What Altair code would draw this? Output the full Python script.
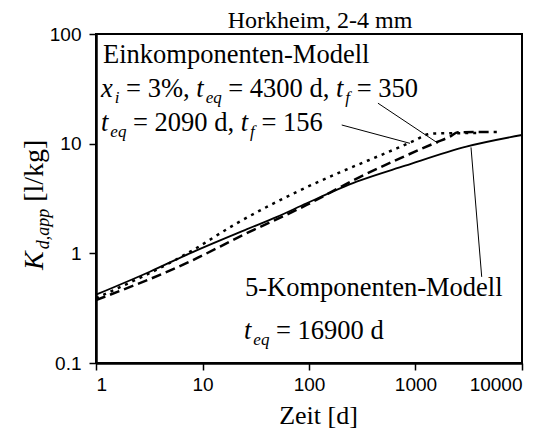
import altair as alt
import pandas as pd

# ---------------- data ----------------
t_solid = [1, 3.2, 7.6, 25, 50, 95, 280, 800, 3000, 10000]
k_solid = [0.42, 0.68, 1.0, 1.63, 2.15, 2.86, 4.5, 6.3, 9.4, 12.0]

t_dash = [1, 7.6, 24, 95, 280, 750, 1580, 2110, 2500, 5800]
k_dash = [0.375, 0.84, 1.47, 2.76, 4.8, 7.5, 10.3, 11.6, 12.7, 12.8]

t_dot = [1, 7.6, 21, 77, 195, 666, 1000, 1310, 1500, 4000]
k_dot = [0.39, 1.03, 1.88, 3.64, 5.47, 9.06, 10.8, 12.2, 12.4, 12.5]

x_ticks = [1, 10, 100, 1000, 10000]
y_ticks = [0.1, 1, 10, 100]

# leader lines (data coordinates)
lead_t1 = [444, 203, 3320]
lead_k1 = [23.4, 14.8, 9.25]
lead_t2 = [1626, 888, 4185]
lead_k2 = [10.1, 10.07, 0.61]

SERIF = "Times New Roman, Liberation Serif, serif"

W, H = 426, 329
OX, OY = 96, 34  # plot origin in page pixels


def to_t(px):
    return 10 ** ((px - OX) / W * 4)


def to_k(py):
    return 10 ** (2 - (py - OY) / H * 3)


REG = {' ': 250, '%': 833, ',': 250, '-': 333, '.': 250, '/': 278, '=': 564,
       '[': 333, ']': 333, 'E': 611, 'H': 722, 'K': 722, 'M': 889, 'Z': 611,
       'a': 444, 'd': 500, 'e': 444, 'f': 333, 'g': 500, 'h': 500, 'i': 278,
       'k': 500, 'l': 278, 'm': 778, 'n': 500, 'o': 500, 'p': 500, 'q': 500,
       'r': 333, 't': 278, 'x': 500}
for c in '0123456789':
    REG[c] = 500
ITA = {'K': 667, 'a': 500, 'd': 500, 'e': 444, 'f': 278, 'i': 278, 'p': 500,
       'q': 500, 't': 278, 'x': 444, ',': 250}


def width(s, ital, size):
    tab = ITA if ital else REG
    return sum(tab.get(c, 500) for c in s) / 1000 * size


F, FS = 26.5, 17
rows = []


def layout(x0, base, pieces, f=F):
    x = x0
    for text, ital, sub in pieces:
        size = FS if sub else f
        lead = len(text) - len(text.lstrip())
        xs = x + width(text[:lead], ital, size)
        y = base + (6 if sub else 0)
        key = ('i' if ital else 'r') + ('s' if sub else 'b')
        rows.append(dict(t=to_t(xs), K=to_k(y), txt=text.strip(), g=key))
        x += width(text, ital, size) + (2 if (ital and not sub) else 0)


layout(103, 63, [("Einkomponenten-Modell", False, False)])
layout(101, 97, [("x", True, False), ("i", True, True), (" = 3%, ", False, False),
                 ("t", True, False), ("eq", True, True), (" = 4300 d, ", False, False),
                 ("t", True, False), ("f", True, True), (" = 350", False, False)])
layout(101, 131, [("t", True, False), ("eq", True, True), (" = 2090 d, ", False, False),
                  ("t", True, False), ("f", True, True), (" = 156", False, False)])
layout(245, 296, [("5-Komponenten-Modell", False, False)])
layout(244, 339, [("t", True, False), ("eq", True, True), (" = 16900 d", False, False)])
txt = pd.DataFrame(rows)

# rotated y-axis title pieces
rot_rows = []
yb, xb = 270, 43
for text, ital, sub in [("K", True, False), ("d,app", True, True), (" [l/kg]", False, False)]:
    size = 18 if sub else 28
    lead = len(text) - len(text.lstrip())
    ys = yb - width(text[:lead], ital, size)
    rot_rows.append(dict(t=to_t(xb + (6 if sub else 0)), K=to_k(ys), txt=text.strip(),
                         g=('i' if ital else 'r') + str(size)))
    yb -= width(text, ital, size) + (2 if (ital and not sub) else 0)
rot = pd.DataFrame(rot_rows)

title_df = pd.DataFrame([dict(t=to_t(320), K=to_k(28), txt="Horkheim, 2-4 mm")])

xs = alt.Scale(type='log', domain=[1, 10000])
ys_ = alt.Scale(type='log', domain=[0.1, 100])
xaxis = alt.Axis(values=x_ticks, format='~g', title='Zeit [d]', grid=False,
                 titleX=222, titleY=60, titleBaseline='alphabetic',
                 titleFont=SERIF, titleFontSize=26, titleFontWeight='normal')
yaxis = alt.Axis(values=y_ticks, format='~g', title='', grid=False)
X = alt.X('t:Q', scale=xs, axis=xaxis)
Y = alt.Y('K:Q', scale=ys_, axis=yaxis)


def line(ts, ks, dash, sw):
    df = pd.DataFrame({'t': ts, 'K': ks})
    kw = dict(color='black', strokeWidth=sw, interpolate='monotone')
    if dash:
        kw['strokeDash'] = dash
    return alt.Chart(df).mark_line(**kw).encode(x=X, y=Y)


layers = [
    line(t_solid, k_solid, None, 1.8),
    line(t_dash, k_dash, [10, 5], 2.5),
    line(t_dot, k_dot, [3, 5], 2.5),
]

lead = pd.DataFrame({'t': lead_t1, 'K': lead_k1, 't2': lead_t2, 'K2': lead_k2})
layers.append(alt.Chart(lead).mark_rule(color='black', strokeWidth=1).encode(
    x=X, y=Y, x2='t2:Q', y2='K2:Q'))

for g, ital, size in [('rb', False, F), ('ib', True, F), ('is', True, FS)]:
    d = txt[txt.g == g]
    if len(d):
        layers.append(alt.Chart(d).mark_text(
            align='left', baseline='alphabetic', font=SERIF, fontSize=size,
            fontStyle='italic' if ital else 'normal', fontWeight='normal',
            color='black').encode(x=X, y=Y, text='txt:N'))

for g, ital, size in [('i28', True, 28), ('i18', True, 18), ('r28', False, 28)]:
    d = rot[rot.g == g]
    layers.append(alt.Chart(d).mark_text(
        align='left', baseline='alphabetic', angle=270, font=SERIF,
        fontSize=size, fontStyle='italic' if ital else 'normal', fontWeight='normal',
        color='black').encode(x=X, y=Y, text='txt:N'))

layers.append(alt.Chart(title_df).mark_text(
    align='center', baseline='alphabetic', font=SERIF, fontSize=24,
    fontWeight='normal', color='black').encode(x=X, y=Y, text='txt:N'))

chart = alt.layer(*layers).properties(
    width=W, height=H, autosize=alt.AutoSizeParams(type='none'),
    padding={'left': 88, 'top': 26, 'right': 29, 'bottom': 66}
).configure_view(stroke='black', strokeWidth=2).configure_axis(
    labelFont='Liberation Sans', labelFontSize=19, labelColor='black',
    tickColor='black', tickSize=7, tickWidth=1.5, domainColor='black', domainWidth=2.5,
    labelPadding=8
).configure_axisY(labelPadding=8).configure_axisX(labelPadding=5)

chart.save("out.html", embed_options={"renderer": "svg", "actions": False})
